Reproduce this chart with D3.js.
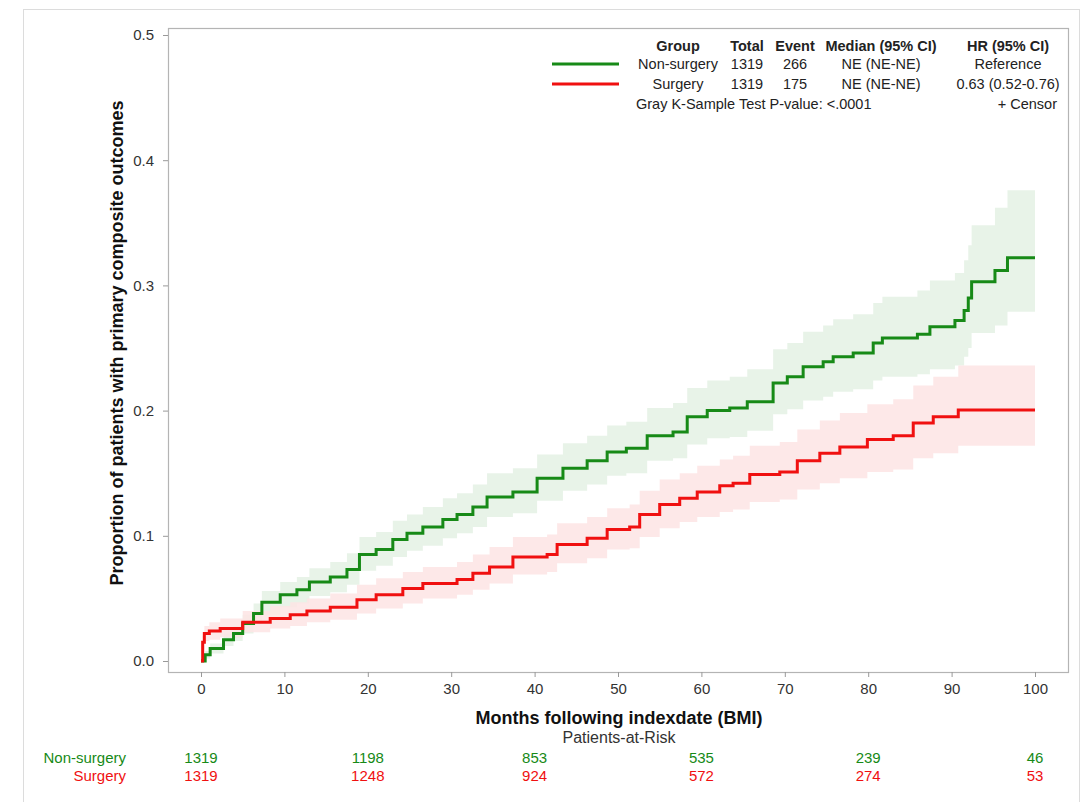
<!DOCTYPE html>
<html><head><meta charset="utf-8">
<script src="https://cdn.jsdelivr.net/npm/d3@7"></script>
<style>
body{margin:0;background:#fff;}
svg{display:block;font-family:"Liberation Sans",Arial,sans-serif;}
</style></head>
<body><svg id="c" width="1084" height="802"></svg>
<script>
// ---- data ----
const groups = ["Non-surgery", "Surgery"];
const groupColors = ["#178a17", "#f01010"];
const bandColors = ["#e4f1e4", "#fde4e4"];

const nsTime  = [0,0.5,1.1,2.7,3.9,5.0,6.3,7.3,9.5,11.5,13,15.5,17.5,19,21,23,24.7,26.6,29,30.7,32.6,34.3,37.4,40.3,43.4,46.3,48.7,51,53.5,56.6,58.3,60.7,63.4,65.5,68.6,70.3,72.2,74.6,75.8,78.2,80.6,81.7,85.9,87.4,90.4,91.5,92.0,92.4,95.2,96.7,100];
const nsEst   = [0,0.005,0.010,0.017,0.022,0.030,0.038,0.047,0.053,0.057,0.063,0.067,0.073,0.085,0.089,0.097,0.102,0.107,0.113,0.117,0.123,0.131,0.135,0.146,0.154,0.160,0.167,0.170,0.180,0.183,0.195,0.200,0.202,0.207,0.222,0.227,0.235,0.239,0.243,0.246,0.254,0.258,0.261,0.267,0.272,0.280,0.290,0.303,0.312,0.322,0.322];
const nsLower = [0,0.002,0.006,0.012,0.016,0.022,0.029,0.037,0.043,0.046,0.052,0.055,0.061,0.072,0.076,0.083,0.088,0.092,0.098,0.102,0.107,0.115,0.118,0.128,0.136,0.141,0.148,0.150,0.160,0.162,0.173,0.178,0.179,0.184,0.197,0.201,0.208,0.211,0.215,0.217,0.224,0.227,0.229,0.233,0.236,0.243,0.250,0.262,0.268,0.279,0.279];
const nsUpper = [0,0.008,0.014,0.022,0.028,0.037,0.046,0.056,0.063,0.067,0.074,0.079,0.086,0.099,0.103,0.112,0.117,0.123,0.130,0.134,0.141,0.150,0.154,0.165,0.174,0.180,0.188,0.191,0.202,0.206,0.218,0.224,0.227,0.233,0.249,0.254,0.263,0.268,0.273,0.277,0.286,0.291,0.296,0.304,0.310,0.320,0.332,0.348,0.362,0.376,0.376];

const sTime  = [0,0.2,0.4,1.0,2.3,5.0,8.3,10.7,12.7,15.5,18.7,21,24.2,26.6,30.7,32.6,34.6,37.4,41.5,42.7,46.3,48.7,51.4,52.6,55,57.4,59.5,62.2,63.8,65.8,69.4,71.5,74.2,76.6,79.9,83.0,85.4,87.8,90.8,100];
const sEst   = [0,0.015,0.022,0.024,0.026,0.031,0.034,0.037,0.040,0.043,0.049,0.053,0.058,0.062,0.065,0.070,0.075,0.083,0.085,0.093,0.098,0.105,0.107,0.117,0.125,0.130,0.135,0.140,0.142,0.149,0.151,0.160,0.166,0.171,0.177,0.180,0.190,0.195,0.2005,0.2005];
const sLower = [0,0.010,0.016,0.017,0.019,0.023,0.026,0.028,0.031,0.033,0.038,0.042,0.046,0.050,0.053,0.057,0.062,0.069,0.071,0.078,0.082,0.089,0.090,0.099,0.106,0.111,0.115,0.119,0.121,0.127,0.129,0.137,0.142,0.146,0.151,0.153,0.162,0.166,0.172,0.172];
const sUpper = [0,0.020,0.028,0.031,0.034,0.040,0.044,0.047,0.050,0.054,0.061,0.066,0.071,0.075,0.079,0.085,0.091,0.099,0.101,0.110,0.115,0.122,0.125,0.136,0.145,0.150,0.156,0.161,0.164,0.172,0.175,0.185,0.192,0.198,0.205,0.209,0.220,0.227,0.236,0.236];

const xTicks = [0,10,20,30,40,50,60,70,80,90,100];
const yTicks = [0.0,0.1,0.2,0.3,0.4,0.5];
const riskTimes = [0,20,40,60,80,100];
const riskNonSurgery = [1319,1198,853,535,239,46];
const riskSurgery = [1319,1248,924,572,274,53];

const legendHeader = ["Group","Total","Event","Median (95% CI)","HR (95% CI)"];
const legendRowNS = ["Non-surgery","1319","266","NE (NE-NE)","Reference"];
const legendRowS  = ["Surgery","1319","175","NE (NE-NE)","0.63 (0.52-0.76)"];

// ---- drawing ----
const svg = d3.select("#c");
const frame = {left:168, top:28, right:1068, bottom:672};
const x = d3.scaleLinear().domain([0,100]).range([201,1035]);
const y = d3.scaleLinear().domain([0,0.5]).range([661,35]);

// outer border
svg.append("rect").attr("x",23.5).attr("y",9.5).attr("width",1056).attr("height",800)
  .attr("fill","none").attr("stroke","#dcdcdc").attr("stroke-width",1);

const series = [
  {t:nsTime, e:nsEst, lo:nsLower, hi:nsUpper},
  {t:sTime, e:sEst, lo:sLower, hi:sUpper}
].map(s => s.t.map((t,i)=>({t, e:s.e[i], lo:s.lo[i], hi:s.hi[i]})));

const area = d3.area().curve(d3.curveStepAfter)
  .x(d=>x(d.t)).y0(d=>y(d.lo)).y1(d=>y(d.hi));
const line = d3.line().curve(d3.curveStepAfter)
  .x(d=>x(d.t)).y(d=>y(d.e));

series.forEach((s,i)=>{
  svg.append("path").attr("d",area(s)).attr("fill",bandColors[i]).attr("fill-opacity",0.85);
});
series.forEach((s,i)=>{
  svg.append("path").attr("d",line(s)).attr("fill","none")
    .attr("stroke",groupColors[i]).attr("stroke-width",3);
});

// frame
svg.append("rect").attr("x",frame.left+0.5).attr("y",frame.top+0.5)
  .attr("width",frame.right-frame.left).attr("height",frame.bottom-frame.top)
  .attr("fill","none").attr("stroke","#b4b4b4").attr("stroke-width",1.2);

const FONT = "Liberation Sans, Arial, sans-serif";
// y axis
const yAxis = svg.append("g").attr("transform",`translate(${frame.left},0)`)
  .call(d3.axisLeft(y).tickValues(yTicks).tickFormat(d3.format(".1f")).tickSize(5).tickPadding(9));
yAxis.select(".domain").remove();
yAxis.selectAll("line").attr("stroke","#999");
yAxis.selectAll("text").attr("font-size",15).attr("fill","#333").attr("font-family",FONT);

// x axis
const xAxis = svg.append("g").attr("transform",`translate(0,${frame.bottom})`)
  .call(d3.axisBottom(x).tickValues(xTicks).tickSize(5).tickPadding(6));
xAxis.select(".domain").remove();
xAxis.selectAll("line").attr("stroke","#999");
xAxis.selectAll("text").attr("font-size",15).attr("fill","#333").attr("font-family",FONT);

// axis labels
svg.append("text").attr("transform","translate(123,343) rotate(-90)")
  .attr("text-anchor","middle").attr("font-weight","bold").attr("font-size",18).attr("fill","#111")
  .text("Proportion of patients with primary composite outcomes");
svg.append("text").attr("x",619).attr("y",724).attr("text-anchor","middle")
  .attr("font-weight","bold").attr("font-size",18).attr("fill","#111")
  .text("Months following indexdate (BMI)");
svg.append("text").attr("x",619).attr("y",743).attr("text-anchor","middle")
  .attr("font-size",16).attr("fill","#333").text("Patients-at-Risk");

// at risk table
const riskRows = [riskNonSurgery, riskSurgery];
riskRows.forEach((row,i)=>{
  const yy = 763 + i*18;
  svg.append("text").attr("x",126).attr("y",yy).attr("text-anchor","end")
    .attr("font-size",15).attr("fill",groupColors[i]).text(groups[i]);
  svg.selectAll(null).data(row).enter().append("text")
    .attr("x",(d,j)=>x(riskTimes[j])).attr("y",yy).attr("text-anchor","middle")
    .attr("font-size",15).attr("fill",groupColors[i]).text(d=>d);
});

// legend
const colX = [678,747,795,881,1008];
const lg = svg.append("g").attr("font-size",14.5).attr("fill","#222");
legendHeader.forEach((h,i)=>{
  lg.append("text").attr("x",colX[i]).attr("y",51).attr("text-anchor","middle")
    .attr("font-weight","bold").text(h);
});
[legendRowNS, legendRowS].forEach((row,r)=>{
  const yy = 69 + r*20;
  lg.append("line").attr("x1",552).attr("x2",619).attr("y1",yy-5).attr("y2",yy-5)
    .attr("stroke",groupColors[r]).attr("stroke-width",3);
  row.forEach((v,i)=>{
    lg.append("text").attr("x",colX[i]).attr("y",yy).attr("text-anchor","middle").text(v);
  });
});
lg.append("text").attr("x",636).attr("y",109).text("Gray K-Sample Test P-value: <.0001");
lg.append("text").attr("x",1057).attr("y",109).attr("text-anchor","end").text("+  Censor");
</script></body></html>
